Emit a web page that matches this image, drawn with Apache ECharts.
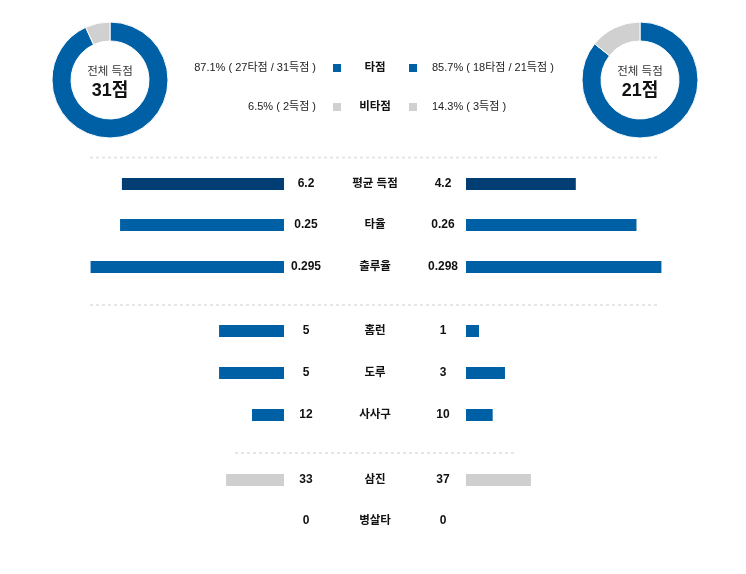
<!DOCTYPE html>
<html><head><meta charset="utf-8">
<script src="https://cdn.jsdelivr.net/npm/echarts@6/dist/echarts.min.js"></script>
<style>html,body{margin:0;padding:0;background:#fff}#c{width:746px;height:574px}</style>
</head><body><div id="c"></div>
<script>
// ---- data ----
const categories = ['평균 득점', '타율', '출루율', '홈런', '도루', '사사구', '삼진', '병살타'];
const homeValues = [6.2, 0.25, 0.295, 5, 5, 12, 33, 0];
const awayValues = [4.2, 0.26, 0.298, 1, 3, 10, 37, 0];
const homeLabels = ['6.2', '0.25', '0.295', '5', '5', '12', '33', '0'];
const awayLabels = ['4.2', '0.26', '0.298', '1', '3', '10', '37', '0'];
const rowScaleMax = [7.65, 0.305, 0.305, 15.4, 15.4, 75, 114, 1];

const runTypes = ['타점', '비타점'];
const homeRuns = [27, 2];
const awayRuns = [18, 3];
const homeTotal = 31;
const awayTotal = 21;
const homeRunText = ['87.1% ( 27타점 / 31득점 )', '6.5% ( 2득점 )'];
const awayRunText = ['85.7% ( 18타점 / 21득점 )', '14.3% ( 3득점 )'];
const totalTitle = '전체 득점';
const unit = '점';

// ---- layout / style ----
const FONT = "'Liberation Sans','Noto Sans CJK KR',sans-serif";
const rowY = [184, 225, 267, 331, 373, 415, 480, 521];
const barColors = ['#003e74', '#0060a5', '#0060a5', '#0060a5', '#0060a5', '#0060a5', '#cfcfcf', '#cfcfcf'];
const pieColors = ['#0060a5', '#d0d0d0'];
const LEFT_END = 284, RIGHT_START = 466, FULL = 200, BAR_H = 12;
const CENTER_X = 375, LEFT_VAL_X = 306, RIGHT_VAL_X = 443;

const grid = [], xAxis = [], yAxis = [], series = [], graphic = [];

function txt(text, x, y, size, weight, align, color) {
  return {
    type: 'text', silent: true,
    style: {
      text: text, x: x, y: y,
      font: (weight || 'normal') + ' ' + size + 'px ' + FONT,
      fill: color || '#111',
      align: align || 'center', verticalAlign: 'middle',
      textAlign: align || 'center', textVerticalAlign: 'middle'
    }
  };
}

categories.forEach(function (cat, i) {
  const y = rowY[i];
  // left (home) grid
  grid.push({ left: LEFT_END - FULL, top: y - BAR_H / 2, width: FULL, height: BAR_H });
  xAxis.push({ gridIndex: 2 * i, type: 'value', min: 0, max: rowScaleMax[i], inverse: true, show: false });
  yAxis.push({ gridIndex: 2 * i, type: 'category', data: [cat], show: false });
  series.push({
    type: 'bar', xAxisIndex: 2 * i, yAxisIndex: 2 * i, barWidth: BAR_H, silent: true,
    data: [homeValues[i]], itemStyle: { color: barColors[i] }
  });
  // right (away) grid
  grid.push({ left: RIGHT_START, top: y - BAR_H / 2, width: FULL, height: BAR_H });
  xAxis.push({ gridIndex: 2 * i + 1, type: 'value', min: 0, max: rowScaleMax[i], show: false });
  yAxis.push({ gridIndex: 2 * i + 1, type: 'category', data: [cat], show: false });
  series.push({
    type: 'bar', xAxisIndex: 2 * i + 1, yAxisIndex: 2 * i + 1, barWidth: BAR_H, silent: true,
    data: [awayValues[i]], itemStyle: { color: barColors[i] }
  });
  graphic.push(txt(homeLabels[i], LEFT_VAL_X, y, 12, 'bold'));
  graphic.push(txt(cat, CENTER_X, y, 11.5, 'bold'));
  graphic.push(txt(awayLabels[i], RIGHT_VAL_X, y, 12, 'bold'));
});

// donuts
function donut(center, vals) {
  return {
    type: 'pie', center: center, radius: [39, 58], silent: true,
    label: { show: false }, labelLine: { show: false },
    itemStyle: { borderColor: '#fff', borderWidth: 1 },
    data: vals.map(function (v, k) { return { name: runTypes[k], value: v, itemStyle: { color: pieColors[k] } }; })
  };
}
series.push(donut([110, 80], homeRuns));
series.push(donut([640, 80], awayRuns));
graphic.push(txt(totalTitle, 110, 72, 11.5, 'normal', 'center', '#333'));
graphic.push(txt(homeTotal + unit, 110, 91, 18, 'bold', 'center', '#111'));
graphic.push(txt(totalTitle, 640, 72, 11.5, 'normal', 'center', '#333'));
graphic.push(txt(awayTotal + unit, 640, 91, 18, 'bold', 'center', '#111'));

// legend rows
const legendY = [68, 107];
runTypes.forEach(function (t, k) {
  const y = legendY[k];
  graphic.push(txt(homeRunText[k], 316, y, 11, 'normal', 'right', '#222'));
  graphic.push({ type: 'rect', silent: true, shape: { x: 333, y: y - 4, width: 8, height: 8 }, style: { fill: pieColors[k] } });
  graphic.push(txt(t, CENTER_X, y, 11.5, 'bold', 'center', '#111'));
  graphic.push({ type: 'rect', silent: true, shape: { x: 409, y: y - 4, width: 8, height: 8 }, style: { fill: pieColors[k] } });
  graphic.push(txt(awayRunText[k], 432, y, 11, 'normal', 'left', '#222'));
});

// dividers
[[90, 658, 157.5], [90, 658, 305], [235, 514, 453]].forEach(function (d) {
  graphic.push({
    type: 'line', silent: true,
    shape: { x1: d[0], y1: d[2], x2: d[1], y2: d[2] },
    style: { stroke: '#e6e6e6', lineWidth: 2, lineDash: [3, 3] }
  });
});

const chart = echarts.init(document.getElementById('c'), null, { renderer: 'canvas' });
chart.setOption({
  animation: false,
  backgroundColor: '#fff',
  grid: grid, xAxis: xAxis, yAxis: yAxis, series: series, graphic: graphic
});
</script>
</body></html>
